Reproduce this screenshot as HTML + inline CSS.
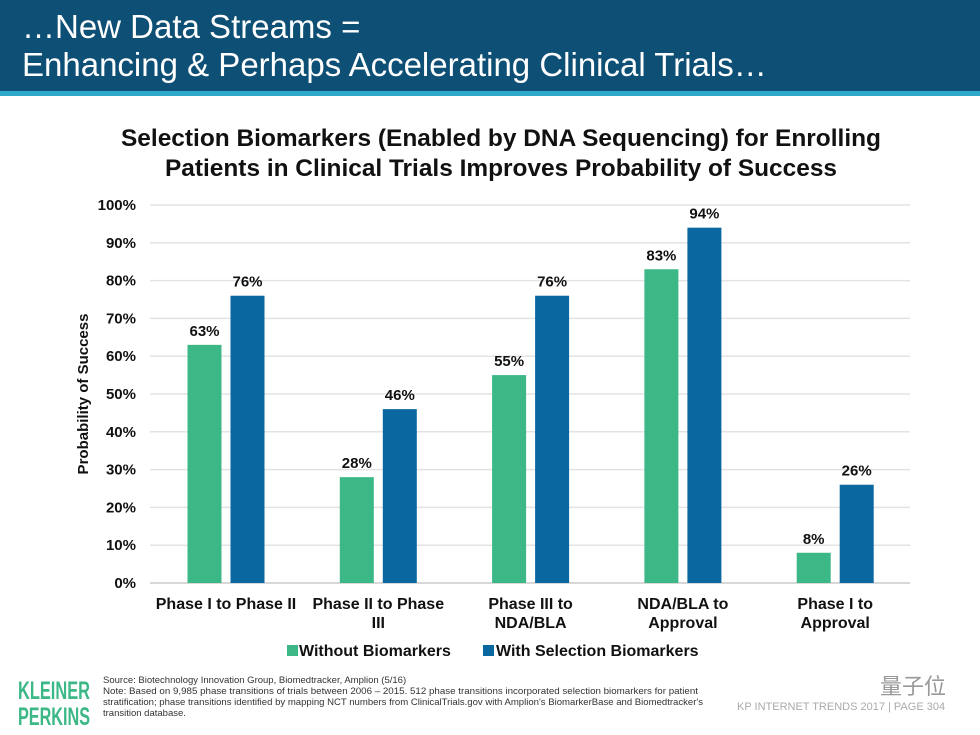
<!DOCTYPE html>
<html><head><meta charset="utf-8">
<style>
body{margin:0;width:980px;height:735px;overflow:hidden;background:#fff;font-family:"Liberation Sans",Arial,sans-serif;}
#hdr{position:absolute;left:0;top:0;width:980px;height:91px;background:#0e4f75;}
#stripe{position:absolute;left:0;top:91px;width:980px;height:5px;background:#2ea9c9;}
#hdr div{position:absolute;left:22px;color:#fff;font-size:33px;line-height:37px;}
svg{position:absolute;left:0;top:0;}
</style></head><body>
<div id="hdr">
<div style="top:8px">…New Data Streams =</div>
<div style="top:46px">Enhancing &amp; Perhaps Accelerating Clinical Trials…</div>
</div>
<div id="stripe"></div>
<svg id="chart" width="980" height="735">
<text x="501" y="146" text-anchor="middle" font-size="24" font-weight="bold" fill="#111" textLength="760" lengthAdjust="spacingAndGlyphs">Selection Biomarkers (Enabled by DNA Sequencing) for Enrolling</text>
<text x="501" y="176" text-anchor="middle" font-size="24" font-weight="bold" fill="#111" textLength="672" lengthAdjust="spacingAndGlyphs">Patients in Clinical Trials Improves Probability of Success</text>
<text transform="translate(88,394) rotate(-90)" text-anchor="middle" font-size="15" font-weight="bold" fill="#111">Probability of Success</text>
<g id="grid"></g><g id="bars"></g>
<rect x="287" y="645" width="11" height="11" fill="#3cb886"/>
<text x="299" y="656" font-size="16" font-weight="bold" fill="#111">Without Biomarkers</text>
<rect x="483" y="645" width="11" height="11" fill="#0b67a0"/>
<text x="496" y="656" font-size="16" font-weight="bold" fill="#111">With Selection Biomarkers</text>
<text x="18" y="699" font-size="25" font-weight="bold" fill="#3cb886" textLength="72" lengthAdjust="spacingAndGlyphs">KLEINER</text>
<text x="18" y="725" font-size="25" font-weight="bold" fill="#3cb886" textLength="72" lengthAdjust="spacingAndGlyphs">PERKINS</text>
<g font-size="9.5" fill="#333">
<text x="103" y="683">Source: Biotechnology Innovation Group, Biomedtracker, Amplion (5/16)</text>
<text x="103" y="694" textLength="595" lengthAdjust="spacingAndGlyphs">Note: Based on 9,985 phase transitions of trials between 2006 – 2015. 512 phase transitions incorporated selection biomarkers for patient</text>
<text x="103" y="705" textLength="600" lengthAdjust="spacingAndGlyphs">stratification; phase transitions identified by mapping NCT numbers from ClinicalTrials.gov with Amplion's BiomarkerBase and Biomedtracker's</text>
<text x="103" y="716">transition database.</text>
</g>
<text x="737" y="710" font-size="11" fill="#aaa">KP INTERNET TRENDS 2017  |  PAGE 304</text>
<text x="880" y="694" font-size="22" fill="#999" font-family="'Liberation Sans','Noto Sans CJK SC',sans-serif">量子位</text>
</svg>
<script>
const categories=[["Phase I to Phase II"],["Phase II to Phase","III"],["Phase III to","NDA/BLA"],["NDA/BLA to","Approval"],["Phase I to","Approval"]];
const withoutVals=[63,28,55,83,8];
const withVals=[76,46,76,94,26];
const yTicks=[0,10,20,30,40,50,60,70,80,90,100];
const NS="http://www.w3.org/2000/svg";
const y0=583,y1=205,xL=150,xR=910,gx0=226,gStep=152.3,bw=34,gap=9;
const y=v=>y0-(y0-y1)*v/100;
const gc=i=>gx0+i*gStep;
function mk(t,a,p){const e=document.createElementNS(NS,t);for(const k in a)e.setAttribute(k,a[k]);p.appendChild(e);return e;}
const grid=document.getElementById('grid'),bars=document.getElementById('bars');
yTicks.forEach(t=>{
 const l=mk('line',{x1:xL,x2:xR,y1:y(t),y2:y(t),stroke:t===0?'#ccc':'#e3e3e3','stroke-width':1.5},grid);
 
 
 const tx=mk('text',{x:136,y:y(t)+5,'text-anchor':'end','font-size':15,'font-weight':'bold',fill:'#111'},grid);
 tx.textContent=t+'%';
 
 
});
categories.forEach((c,i)=>{
 [[withoutVals[i],'#3cb886',-1,'without'],[withVals[i],'#0b67a0',1,'with']].forEach(([v,col,s,n])=>{
  const x=s<0?gc(i)-gap/2-bw:gc(i)+gap/2;
  const r=mk('rect',{x:x,y:y(v),width:bw,height:y0-y(v),fill:col},bars);
  
  
  const t=mk('text',{x:x+bw/2,y:y(v)-9,'text-anchor':'middle','font-size':15,'font-weight':'bold',fill:'#111'},bars);
  t.textContent=v+'%';
  
  
 });
 c.forEach((ln,j)=>{
  const t=mk('text',{x:gc(i),y:609+j*19,'text-anchor':'middle','font-size':16,'font-weight':'bold',fill:'#111'},bars);
  t.textContent=ln;
  
  
 });
});
</script>
</body></html>
